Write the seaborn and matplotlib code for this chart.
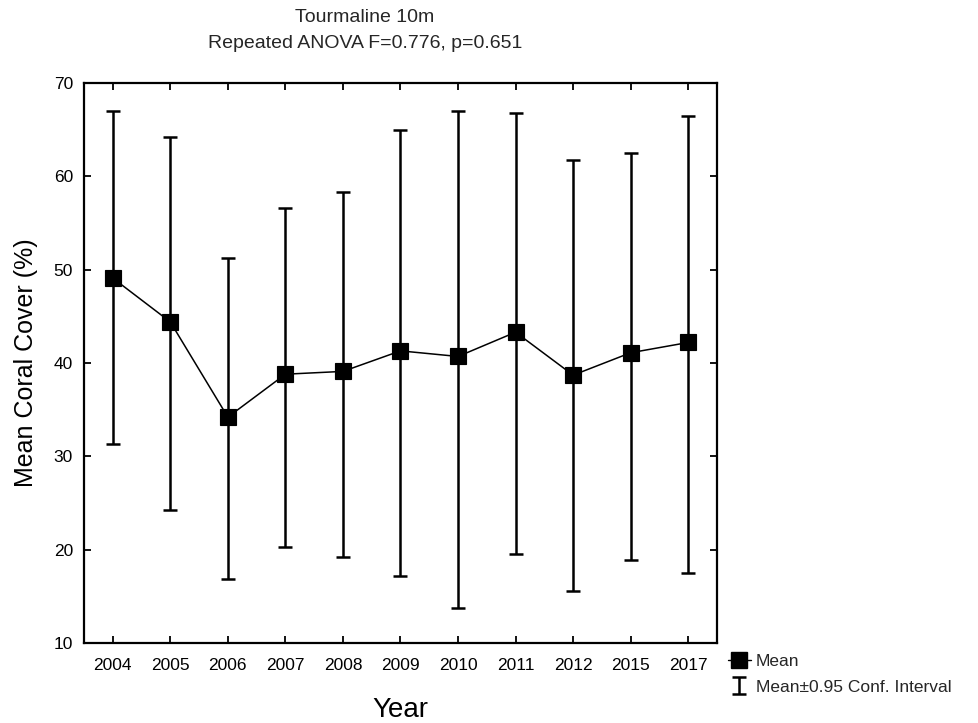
import matplotlib
matplotlib.use("Agg")
import matplotlib.pyplot as plt
from matplotlib.lines import Line2D
import seaborn as sns
import pandas as pd
import numpy as np

years = ["2004", "2005", "2006", "2007", "2008", "2009", "2010", "2011", "2012", "2015", "2017"]
mean_cover = [49.1, 44.4, 34.2, 38.8, 39.1, 41.3, 40.7, 43.3, 38.7, 41.1, 42.2]
ci_upper = [67.0, 64.2, 51.2, 56.6, 58.3, 65.0, 67.0, 66.8, 61.7, 62.5, 66.5]
ci_lower = [31.3, 24.2, 16.9, 20.3, 19.2, 17.2, 13.8, 19.5, 15.6, 18.9, 17.5]
y_ticks = [10, 20, 30, 40, 50, 60, 70]

title_line1 = "Tourmaline 10m"
title_line2 = "Repeated ANOVA F=0.776, p=0.651"
x_label = "Year"
y_label = "Mean Coral Cover (%)"
legend_labels = ["Mean", "Mean\u00b10.95 Conf. Interval"]

sns.set_style("white")
plt.rcParams["font.family"] = ["Liberation Sans", "DejaVu Sans"]

df = pd.DataFrame({"Year": years, "Mean": mean_cover,
                   "Upper": ci_upper, "Lower": ci_lower})

fig = plt.figure(figsize=(9.79, 7.23), dpi=100)
ax = fig.add_axes([84 / 979, 1 - 643 / 723, (717 - 84) / 979, (643 - 83) / 723])

sns.pointplot(data=df, x="Year", y="Mean", color="black", markers="s",
              markersize=11, linewidth=1.1, errorbar=None, ax=ax, zorder=3)

xpos = np.arange(len(df))
err = ax.errorbar(xpos, df["Mean"],
                  yerr=[df["Mean"] - df["Lower"], df["Upper"] - df["Mean"]],
                  fmt="none", ecolor="black", elinewidth=1.8, capsize=4.7,
                  capthick=1.8, zorder=2)

ax.set_xlim(-0.5, len(df) - 0.5)
ax.set_ylim(10, 70)
ax.set_yticks(y_ticks)
ax.set_yticklabels([str(t) for t in y_ticks])

for s in ax.spines.values():
    s.set_visible(True)
    s.set_color("black")
    s.set_linewidth(1.6)

ax.tick_params(axis="both", direction="in", length=5, width=1.3, color="black",
               labelsize=12.5, labelcolor="black", top=True, right=True,
               bottom=True, left=True,
               labeltop=False, labelright=False, labelbottom=True, labelleft=True)
ax.tick_params(axis="x", pad=11)
ax.tick_params(axis="y", pad=8)

ax.set_xlabel(x_label, fontsize=20, color="black")
ax.set_ylabel(y_label, fontsize=18, color="black")
ax.xaxis.label.set_va("center")
ax.yaxis.label.set_va("center")
ax.xaxis.set_label_coords(0.5, -0.12)
ax.yaxis.set_label_coords(-0.092, 0.5)

fig.text(365 / 979, 1 - 18 / 723, title_line1, ha="center", va="center", fontsize=14)
fig.text(365 / 979, 1 - 44 / 723, title_line2, ha="center", va="center", fontsize=14)

mean_handle = Line2D([0], [0], color="black", marker="s", markersize=11, linewidth=1)
fig.legend([mean_handle, err], legend_labels, loc="upper left",
           bbox_to_anchor=(728 / 979, 1 - 654 / 723), frameon=False,
           fontsize=12.5, handlelength=1.3, handletextpad=0.3,
           borderaxespad=0, borderpad=0, labelspacing=0.6)

fig.savefig("out.png", dpi=100)
